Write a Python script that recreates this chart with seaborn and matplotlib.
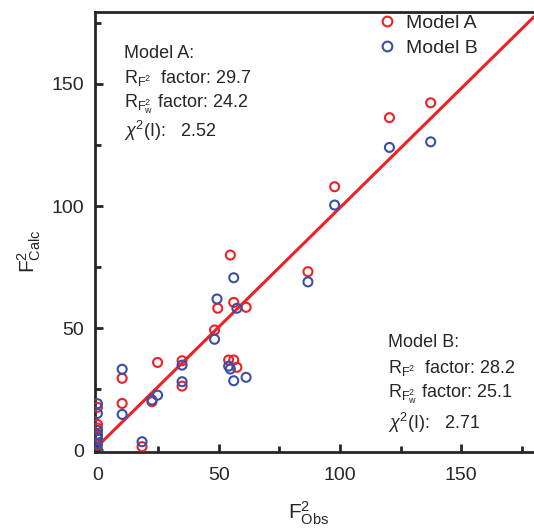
import matplotlib
matplotlib.use("Agg")
import matplotlib.pyplot as plt
import seaborn as sns
import pandas as pd
import numpy as np
from matplotlib.lines import Line2D

# Model A (red)
a_obs = [0, 0, 0, 0, 0, 10.2, 10.2, 18.4, 22.5, 24.8, 34.9, 34.9, 48.3, 49.6, 54.8,
         56.2, 61.3, 54.1, 56.2, 57.5, 86.8, 97.8, 120.4, 137.4]
a_calc = [17.5, 10.5, 9.0, 6.0, 2.0, 29.4, 19.1, 1.4, 19.8, 35.9, 36.6, 26.2, 49.2, 58.1, 79.9,
          60.5, 58.5, 36.9, 36.9, 33.9, 73.1, 107.9, 136.2, 142.3]
# Model B (blue)
b_obs = [0, 0, 0, 0, 0, 0, 0, 10.2, 10.2, 18.4, 22.5, 24.8, 34.9, 34.9, 48.3, 49.3,
         56.2, 57.5, 54.1, 54.8, 56.2, 61.3, 86.8, 97.8, 120.4, 137.4]
b_calc = [19.0, 15.0, 8.0, 6.5, 4.8, 2.7, 0.3, 33.1, 14.6, 3.4, 20.5, 22.5, 34.8, 28.0, 45.4, 61.9,
          70.6, 58.1, 34.4, 33.2, 28.4, 29.8, 68.9, 100.4, 124.0, 126.3]

fit_x = [1.0, 180.0]
fit_slope = 0.978
fit_intercept = 1.5

x_ticks = [0, 50, 100, 150]
y_ticks = [0, 50, 100, 150]

text_a = ["Model A:", r"$\mathregular{R_{F^{2}}}$  factor: 29.7",
          r"$\mathregular{R_{F^{2}_{w}}}$ factor: 24.2", r"$\chi^{2}$(I):   2.52"]
text_b = ["Model B:", r"$\mathregular{R_{F^{2}}}$  factor: 28.2",
          r"$\mathregular{R_{F^{2}_{w}}}$ factor: 25.1", r"$\chi^{2}$(I):   2.71"]

sns.set_style("ticks")
plt.rcParams["font.family"] = ["Liberation Sans", "DejaVu Sans"]
plt.rcParams["mathtext.fontset"] = "custom"
plt.rcParams["mathtext.rm"] = "Liberation Sans"
plt.rcParams["mathtext.it"] = "Liberation Sans:italic"
plt.rcParams["mathtext.bf"] = "Liberation Sans:bold"

RED = "#ec2227"
BLUE = "#3b4fa5"

df = pd.DataFrame({
    "obs": a_obs + b_obs,
    "calc": a_calc + b_calc,
    "model": ["Model A"] * len(a_obs) + ["Model B"] * len(b_obs),
})

W, H = 534, 531
fig = plt.figure(figsize=(W / 100, H / 100), dpi=100)
left, right, top, bottom = 95, 534, 12, 452
ax = fig.add_axes([left / W, (H - bottom) / H, (right - left) / W, (bottom - top) / H])

fx = np.array(fit_x)
ax.plot(fx, fit_slope * fx + fit_intercept, color=RED, lw=2.2, zorder=1)

sns.scatterplot(data=df, x="obs", y="calc", hue="model",
                palette={"Model A": RED, "Model B": BLUE},
                marker="o", s=42, linewidth=1.5,
                ax=ax, zorder=3, legend=False)
coll = ax.collections[-1]
cols = [RED if m == "Model A" else BLUE for m in df["model"]]
coll.set_facecolors("none")
coll.set_edgecolors(cols)
coll.set_linewidths(1.5)

ax.set_xlim(-1, 180)
ax.set_ylim(-0.8, 179.5)
ax.set_xticks(x_ticks)
ax.set_yticks(y_ticks)
ax.set_xticks([25, 75, 125, 175], minor=True)
ax.set_yticks([25, 75, 125, 175], minor=True)
ax.tick_params(which="major", direction="in", length=6, width=2, labelsize=14)
ax.tick_params(axis="x", which="major", pad=11)
ax.tick_params(axis="y", which="major", pad=8)
ax.tick_params(which="minor", direction="in", length=4, width=2)
ax.tick_params(top=False, right=False, which="both")
for s in ["left", "bottom", "top"]:
    ax.spines[s].set_linewidth(2)
ax.spines["right"].set_visible(False)

ax.set_xlabel(r"$\mathregular{F^{2}_{Obs}}$", fontsize=15)
ax.set_ylabel(r"$\mathregular{F^{2}_{Calc}}$", fontsize=15)
ax.xaxis.set_label_coords((309 - left) / (right - left), (bottom - 500) / (bottom - top))
ax.yaxis.set_label_coords((43 - left) / (right - left), (bottom - 251) / (bottom - top))

handles = [Line2D([], [], ls="", marker="o", mfc="none", mec=RED, mew=1.5, ms=7),
           Line2D([], [], ls="", marker="o", mfc="none", mec=BLUE, mew=1.5, ms=7)]
ax.legend(handles, ["Model A", "Model B"], loc="upper left", frameon=False,
          fontsize=14, bbox_to_anchor=((373 - left) / (right - left), (bottom - 10) / (bottom - top)),
          handlelength=1.0, handletextpad=0.5, labelspacing=0.4, borderaxespad=0, borderpad=0.2)

def px(xp, yp):
    return ((xp - left) / (right - left), (bottom - yp) / (bottom - top))

ya = [58, 83, 108, 137]
for t, yy in zip(text_a, ya):
    ax.text(*px(124, yy), t, transform=ax.transAxes, fontsize=13, va="baseline", ha="left")
yb = [347, 373, 398, 429]
for t, yy in zip(text_b, yb):
    ax.text(*px(388, yy), t, transform=ax.transAxes, fontsize=13, va="baseline", ha="left")

fig.savefig("out.png", dpi=100)
